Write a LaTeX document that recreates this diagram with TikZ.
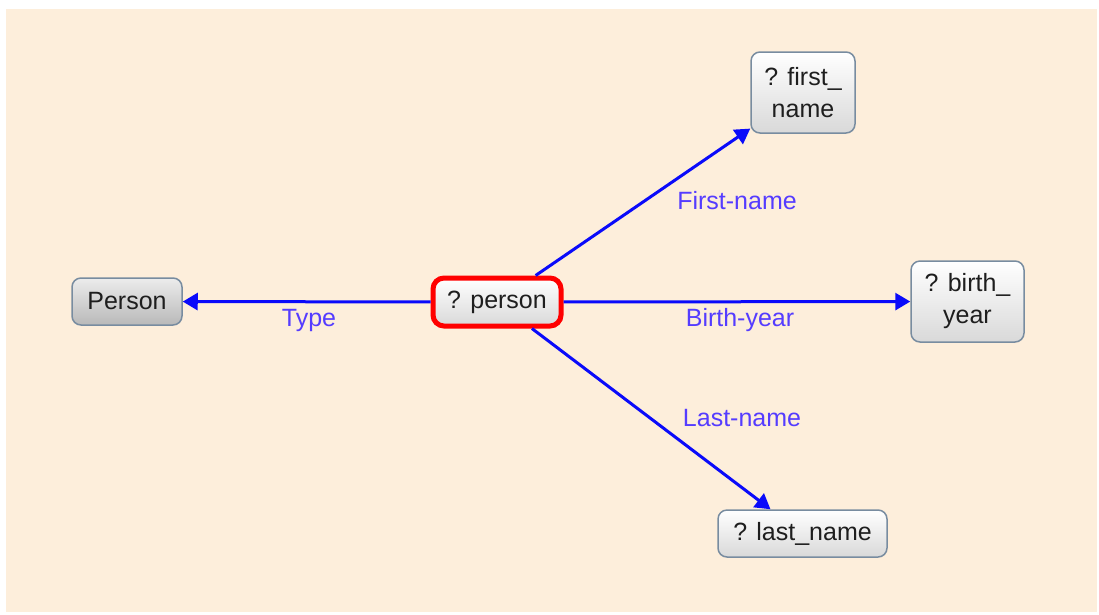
\documentclass[tikz,border=0pt]{standalone}
\usepackage{fontspec}
\setmainfont{Liberation Sans}
\usetikzlibrary{arrows.meta}
\definecolor{bgbeige}{RGB}{253,238,219}
\definecolor{edgeblue}{RGB}{10,10,250}
\definecolor{lblblue}{RGB}{85,60,255}
\definecolor{boxborder}{RGB}{120,140,160}
\definecolor{txtdark}{RGB}{30,30,30}
\tikzset{
  vbox/.style={draw=boxborder, line width=1.5pt, rounded corners=9pt, align=center,
    top color=white, bottom color=gray!30, text=txtdark, inner sep=0pt,
    font=\fontsize{25}{32}\selectfont},
  classbox/.style={vbox, top color=gray!15, bottom color=gray!55},
  focusbox/.style={vbox, draw=red, line width=5pt, rounded corners=11pt},
  rel/.style={draw=edgeblue, line width=3pt, -{Triangle[length=15pt,width=17pt]}},
  lbl/.style={text=lblblue, font=\fontsize{25}{30}\selectfont, inner sep=0pt}
}
\begin{document}
\begin{tikzpicture}[x=1pt,y=-1pt]
\useasboundingbox (0,0) rectangle (1099,614);
\fill[white] (0,0) rectangle (1099,614);
\fill[bgbeige] (6,9) rectangle (1097,612);

\node[classbox, minimum width=110pt, minimum height=47pt] (cls) at (127,301.5) {Person};
\node[focusbox, minimum width=128pt, minimum height=48pt] (per) at (497,302) {? person};
\node[vbox, minimum width=104pt, minimum height=81pt] (fn) at (803,92.5) {? first\_\\name};
\node[vbox, minimum width=113pt, minimum height=81pt] (by) at (967.5,301.5) {? birth\_\\year};
\node[vbox, minimum width=169pt, minimum height=47pt] (ln) at (802.5,533.5) {? last\_name};

\draw[rel] (per) -- (cls);
\draw[rel] (per) -- (fn);
\draw[rel] (per) -- (by);
\draw[rel] (per) -- (ln);

\node[lbl] (l1) at (309,320) {Type};
\node[lbl] (l2) at (737,201) {First-name};
\node[lbl] (l3) at (740,320) {Birth-year};
\node[lbl] (l4) at (742,418) {Last-name};
\end{tikzpicture}
\end{document}
